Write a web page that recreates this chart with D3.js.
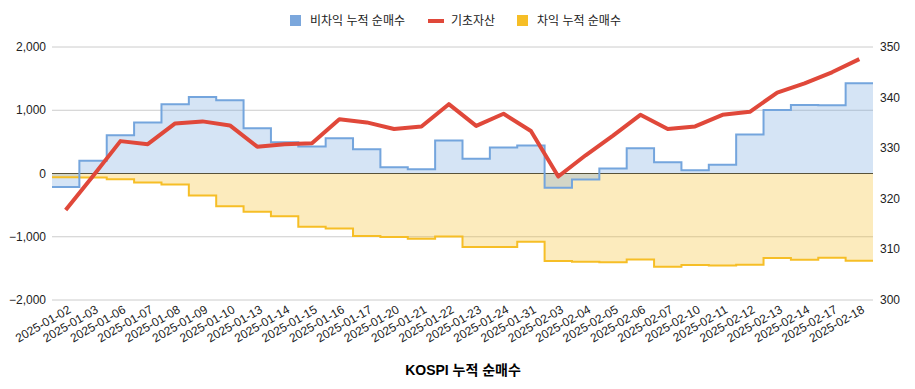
<!DOCTYPE html>
<html>
<head>
<meta charset="utf-8">
<script src="https://cdn.jsdelivr.net/npm/d3@7"></script>
<style>
  body { margin: 0; background: #fff; }
  text { font-family: "Liberation Sans", Arial, "Noto Sans CJK KR", sans-serif; }
</style>
</head>
<body>
<div id="viz"></div>
<script>
"use strict";

var dates = ["2025-01-02","2025-01-03","2025-01-06","2025-01-07","2025-01-08","2025-01-09","2025-01-10",
	"2025-01-13","2025-01-14","2025-01-15","2025-01-16","2025-01-17","2025-01-20","2025-01-21","2025-01-22",
	"2025-01-23","2025-01-24","2025-01-31","2025-02-03","2025-02-04","2025-02-05","2025-02-06","2025-02-07",
	"2025-02-10","2025-02-11","2025-02-12","2025-02-13","2025-02-14","2025-02-17","2025-02-18"];

// 비차익 누적 순매수
var nonArb = [-215, 200, 605, 805, 1095, 1210, 1157, 716, 495, 425, 557, 384, 100, 68, 521,
	232, 410, 442, -226, -95, 79, 400, 179, 53, 137, 616, 1005, 1084, 1080, 1426];
// 차익 누적 순매수
var arb = [-60, -65, -90, -142, -174, -347, -516, -605, -674, -840, -868, -990, -1005, -1032, -995,
	-1163, -1163, -1079, -1384, -1397, -1405, -1358, -1474, -1447, -1453, -1442, -1337, -1363, -1332, -1379];
// 기초자산
var underlying = [317.8, 324.5, 331.4, 330.8, 334.9, 335.3, 334.5, 330.3, 330.8, 331.0, 335.7, 335.1, 333.8, 334.3, 338.7,
	334.4, 336.8, 333.4, 324.4, 328.6, 332.5, 336.6, 333.8, 334.3, 336.6, 337.2, 341.0, 342.8, 345.0, 347.6];

var leftTicks = [-2000, -1000, 0, 1000, 2000];
var rightTicks = [300, 310, 320, 330, 340, 350];

var width = 915, height = 389,
	plotLeft = 52, plotRight = 873, plotTop = 47, plotBottom = 300;

var svg = d3.select("#viz").append("svg")
	.attr("width", width)
	.attr("height", height);

var x = d3.scaleBand().domain(dates).range([plotLeft, plotRight]).padding(0);
var y = d3.scaleLinear().domain([-2000, 2000]).range([plotBottom, plotTop]);
var y2 = d3.scaleLinear().domain([300, 350]).range([plotBottom, plotTop]);
var bw = x.bandwidth();

// gridlines
svg.append("g").selectAll("line")
	.data(leftTicks.filter(function(d){ return d !== 0 }))
	.enter().append("line")
	.attr("x1", plotLeft).attr("x2", plotRight)
	.attr("y1", function(d){ return y(d) }).attr("y2", function(d){ return y(d) })
	.attr("stroke", "#cccccc").attr("stroke-width", 1);

// step points: each value stretches across its whole band
var stepPoints = function(values) {
	var pts = values.map(function(v, i){ return [x(dates[i]), v] });
	pts.push([x(dates[dates.length - 1]) + bw, values[values.length - 1]]);
	return pts;
};

var area = d3.area()
	.x(function(d){ return d[0] })
	.y0(y(0))
	.y1(function(d){ return y(d[1]) })
	.curve(d3.curveStepAfter);
var stepLine = d3.line()
	.x(function(d){ return d[0] })
	.y(function(d){ return y(d[1]) })
	.curve(d3.curveStepAfter);

var series = [
	{ values: arb, stroke: "#f6be26", fill: "#f6be26" },
	{ values: nonArb, stroke: "#74a5dd", fill: "#74a5dd" }
];

series.forEach(function(s){
	svg.append("path")
		.attr("d", area(stepPoints(s.values)))
		.attr("fill", s.fill)
		.attr("fill-opacity", 0.3);
});

// zero baseline
svg.append("line")
	.attr("x1", plotLeft).attr("x2", plotRight)
	.attr("y1", y(0)).attr("y2", y(0))
	.attr("stroke", "#57523a").attr("stroke-width", 1);

series.forEach(function(s){
	svg.append("path")
		.attr("d", stepLine(stepPoints(s.values)))
		.attr("fill", "none")
		.attr("stroke", s.stroke)
		.attr("stroke-width", 2);
});

var redLine = d3.line()
	.x(function(d, i){ return x(dates[i]) + bw / 2 })
	.y(function(d){ return y2(d) });

svg.append("path")
	.attr("d", redLine(underlying))
	.attr("fill", "none")
	.attr("stroke", "#e0483a")
	.attr("stroke-width", 4)
	.attr("stroke-linejoin", "round");

// left axis labels
svg.append("g").selectAll("text")
	.data(leftTicks)
	.enter().append("text")
	.attr("x", plotLeft - 6)
	.attr("y", function(d){ return y(d) + 4 })
	.attr("text-anchor", "end")
	.attr("font-size", "12px")
	.attr("fill", "#222")
	.text(function(d){ return d3.format(",")(d) });

// right axis labels
svg.append("g").selectAll("text")
	.data(rightTicks)
	.enter().append("text")
	.attr("x", plotRight + 7)
	.attr("y", function(d){ return y2(d) + 4 })
	.attr("text-anchor", "start")
	.attr("font-size", "12px")
	.attr("fill", "#222")
	.text(function(d){ return d });

// x labels
svg.append("g").selectAll("text")
	.data(dates)
	.enter().append("text")
	.attr("text-anchor", "end")
	.attr("font-size", "12px")
	.attr("fill", "#222")
	.attr("transform", function(d){
		return "translate(" + (x(d) + bw / 2 + 6) + "," + (plotBottom + 12) + ") rotate(-30)";
	})
	.text(function(d){ return d });

// legend
var legend = svg.append("g").attr("transform", "translate(0,21)");
var legendItems = [
	{ label: "비차익 누적 순매수", color: "#7ba7dc", type: "rect", x: 290 },
	{ label: "기초자산", color: "#e0483a", type: "line", x: 428 },
	{ label: "차익 누적 순매수", color: "#f6be26", type: "rect", x: 517 }
];
legendItems.forEach(function(it){
	if (it.type === "rect") {
		legend.append("rect")
			.attr("x", it.x).attr("y", -6)
			.attr("width", 11).attr("height", 11)
			.attr("fill", it.color);
		legend.append("text")
			.attr("x", it.x + 20).attr("y", 4)
			.attr("font-size", "12px").attr("fill", "#222")
			.text(it.label);
	} else {
		legend.append("line")
			.attr("x1", it.x).attr("x2", it.x + 16)
			.attr("y1", 0).attr("y2", 0)
			.attr("stroke", it.color).attr("stroke-width", 4);
		legend.append("text")
			.attr("x", it.x + 23).attr("y", 4)
			.attr("font-size", "12px").attr("fill", "#222")
			.text(it.label);
	}
});

// title
svg.append("text")
	.attr("x", 463).attr("y", 375)
	.attr("text-anchor", "middle")
	.attr("font-size", "14px")
	.attr("font-weight", "bold")
	.attr("fill", "#000")
	.text("KOSPI 누적 순매수");
</script>
</body>
</html>
